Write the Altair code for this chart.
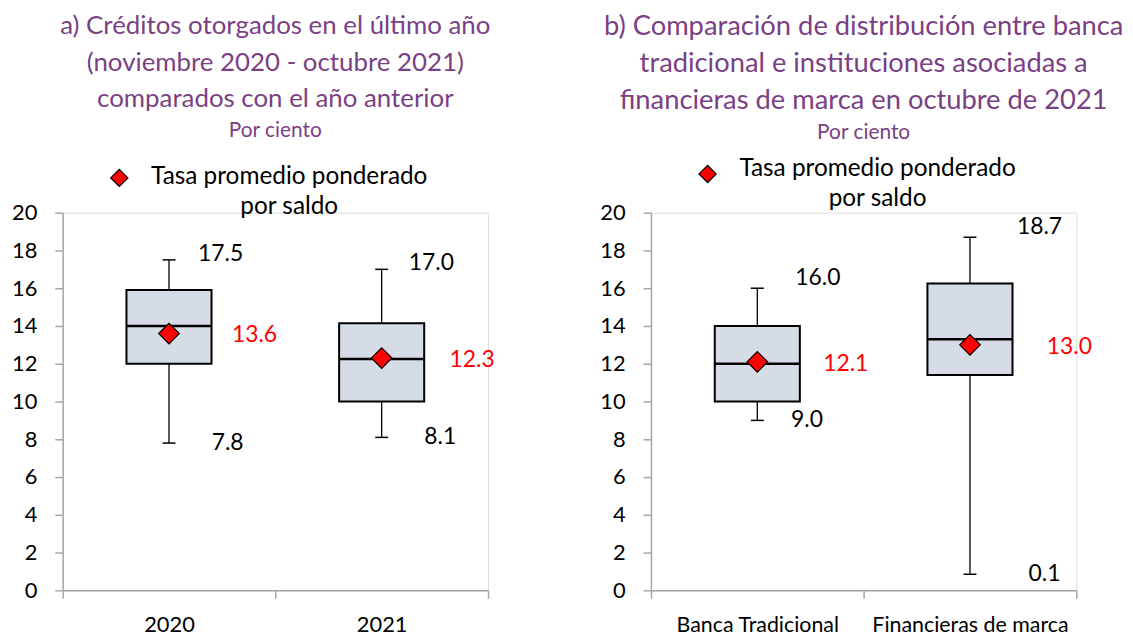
import altair as alt
import pandas as pd

# ---- Panel a) data ----
cats_a = ["2020", "2021"]
min_a = [7.8, 8.1]
q1_a = [12.0, 10.0]
med_a = [14.0, 12.25]
q3_a = [15.9, 14.15]
max_a = [17.5, 17.0]
mean_a = [13.6, 12.3]
lab_min_a = ["7.8", "8.1"]
lab_max_a = ["17.5", "17.0"]
lab_mean_a = ["13.6", "12.3"]

# ---- Panel b) data ----
cats_b = ["Banca Tradicional", "Financieras de marca"]
min_b = [9.0, 0.85]
q1_b = [10.0, 11.4]
med_b = [12.0, 13.3]
q3_b = [14.0, 16.25]
max_b = [16.0, 18.7]
mean_b = [12.1, 13.0]
lab_min_b = ["9.0", "0.1"]
lab_max_b = ["16.0", "18.7"]
lab_mean_b = ["12.1", "13.0"]

y_ticks = [0, 2, 4, 6, 8, 10, 12, 14, 16, 18, 20]

title_a = ["a) Créditos otorgados en el último año",
           "(noviembre 2020 - octubre 2021)",
           "comparados con el año anterior"]
title_b = ["b) Comparación de distribución entre banca",
           "tradicional e instituciones asociadas a",
           "financieras de marca en octubre de 2021"]
subtitle = "Por ciento"
legend_lines = ["Tasa promedio ponderado", "por saldo"]

# ---- styling (label offsets in pixels, not data) ----
style_a = {"max_dx": [52, 50], "min_dx": [59, 59], "mean_dx": [86, 91],
           "max_dy": -6, "cat_font": 22, "leg_y": -35, "leg_text_dy": -1,
           "offset": 23, "title_font": 26}
style_b = {"max_dx": [61, 70], "min_dx": [50, 75], "mean_dx": [89, 100],
           "max_dy": -10, "cat_font": 21.5, "leg_y": -39, "leg_text_dy": -5,
           "offset": 13, "title_font": 27.5}

PURPLE = "#7B3F84"
FONT = "Lato"
BOX_FILL = "#D6DCE5"
HALF = 0.2
W, H = 428, 380


def panel(cats, mins, q1s, meds, q3s, maxs, means, lmin, lmax, lmean,
          title_lines, st):
    n = len(cats)
    ppu = W / n
    pos = [i + 0.5 for i in range(n)]
    df = pd.DataFrame({
        "cat": cats, "pos": pos,
        "left": [p - HALF for p in pos], "right": [p + HALF for p in pos],
        "min": mins, "q1": q1s, "med": meds, "q3": q3s, "max": maxs,
        "mean": means, "lmin": lmin, "lmax": lmax, "lmean": lmean,
        "xmax": [p + d / ppu for p, d in zip(pos, st["max_dx"])],
        "xmin": [p + d / ppu for p, d in zip(pos, st["min_dx"])],
        "xmean": [p + d / ppu for p, d in zip(pos, st["mean_dx"])],
    })
    label_expr = " : ".join(
        [f"datum.value == {p} ? '{c}'" for p, c in zip(pos, cats)]) + " : ''"
    xs = alt.Scale(domain=[0, n], nice=False, zero=False)
    x_axis = alt.Axis(
        values=[0, 0.5, 1, 1.5, 2], labelExpr=label_expr,
        labelOverlap=False, labelFlush=False, labelBound=False, labelLimit=400,
        tickOpacity={"condition": {"test": "datum.value % 1 != 0", "value": 0}, "value": 1},
        tickSize=8, labelPadding=16, labelFontSize=st["cat_font"], labelFont=FONT,
        labelColor="black", domainColor="#A6A6A6", tickColor="#A6A6A6",
        domainWidth=1.5, tickWidth=1.5, grid=False)
    ys = alt.Scale(domain=[0, 20], nice=False)
    y_axis = alt.Axis(values=y_ticks, tickSize=8, tickCount=11,
                      labelOverlap=False, labelPadding=18,
                      labelFontSize=22, labelFont=FONT,
                      labelColor="black", domainColor="#A6A6A6",
                      tickColor="#A6A6A6", domainWidth=1.5, tickWidth=1.5,
                      grid=False)

    def X(f):
        return alt.X(f, scale=xs, axis=x_axis, title=None)

    def Y(f):
        return alt.Y(f, scale=ys, axis=y_axis, title=None)

    base = alt.Chart(df)
    whisker = base.mark_rule(color="black", strokeWidth=1.3).encode(
        x=X("pos:Q"), y=Y("min:Q"), y2="max:Q")
    cap_min = base.mark_tick(orient="horizontal", size=13, thickness=1.5,
                             color="black", opacity=1).encode(
        x=X("pos:Q"), y=Y("min:Q"))
    cap_max = base.mark_tick(orient="horizontal", size=13, thickness=1.5,
                             color="black", opacity=1).encode(
        x=X("pos:Q"), y=Y("max:Q"))
    box = base.mark_rect(fill=BOX_FILL, stroke="black", strokeWidth=2).encode(
        x=X("left:Q"), x2="right:Q", y=Y("q1:Q"), y2="q3:Q")
    median = base.mark_rule(color="black", strokeWidth=2.5).encode(
        x=X("left:Q"), x2="right:Q", y=Y("med:Q"))
    mean_pt = base.mark_point(shape="diamond", filled=True, fill="#FF0000",
                              stroke="black", strokeWidth=1.2, size=430,
                              opacity=1).encode(x=X("pos:Q"), y=Y("mean:Q"))
    t_max = base.mark_text(fontSize=23, font=FONT, color="black",
                           dy=st["max_dy"]).encode(
        x=X("xmax:Q"), y=Y("max:Q"), text="lmax:N")
    t_min = base.mark_text(fontSize=23, font=FONT, color="black").encode(
        x=X("xmin:Q"), y=Y("min:Q"), text="lmin:N")
    t_mean = base.mark_text(fontSize=23, font=FONT, color="#FF0000",
                            dy=2).encode(
        x=X("xmean:Q"), y=Y("mean:Q"), text="lmean:N")
    one = pd.DataFrame({"k": [0]})
    ly = st["leg_y"]
    leg_pt = alt.Chart(one).mark_point(shape="diamond", filled=True,
                                       fill="#FF0000", stroke="black",
                                       strokeWidth=1.2, size=300,
                                       opacity=1).encode(
        x=alt.value(57), y=alt.value(ly))
    leg_t1 = alt.Chart(one).mark_text(fontSize=24.5, font=FONT, color="black",
                                      align="center", baseline="middle").encode(
        x=alt.value(228), y=alt.value(ly + st["leg_text_dy"]),
        text=alt.value(legend_lines[0]))
    leg_t2 = alt.Chart(one).mark_text(fontSize=24.5, font=FONT, color="black",
                                      align="center", baseline="middle").encode(
        x=alt.value(228), y=alt.value(ly + st["leg_text_dy"] + 30),
        text=alt.value(legend_lines[1]))
    return alt.layer(whisker, cap_min, cap_max, box, median, mean_pt,
                     t_max, t_min, t_mean, leg_pt, leg_t1, leg_t2).properties(
        width=W, height=H,
        title=alt.TitleParams(text=title_lines, subtitle=subtitle,
                              color=PURPLE, subtitleColor=PURPLE,
                              font=FONT, subtitleFont=FONT,
                              fontSize=st["title_font"],
                              fontWeight="normal", subtitleFontSize=21,
                              lineHeight=37, subtitlePadding=8,
                              anchor="middle", offset=st["offset"],
                              frame="group"))


left = panel(cats_a, min_a, q1_a, med_a, q3_a, max_a, mean_a,
             lab_min_a, lab_max_a, lab_mean_a, title_a, style_a)
right = panel(cats_b, min_b, q1_b, med_b, q3_b, max_b, mean_b,
              lab_min_b, lab_max_b, lab_mean_b, title_b, style_b)

chart = alt.hconcat(left, right, spacing=103).properties(
    padding={"left": 2, "top": 2, "right": 0, "bottom": 0}
).configure_view(stroke=None).configure(background="white")

chart.save("out.html", embed_options={"renderer": "svg", "actions": False})
